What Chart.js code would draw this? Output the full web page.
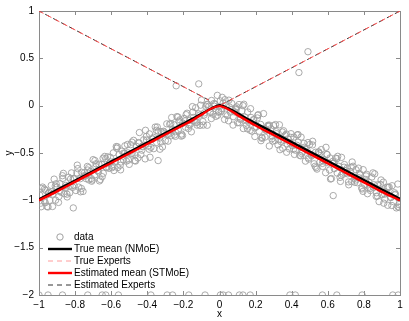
<!DOCTYPE html>
<html><head><meta charset="utf-8">
<script src="https://cdn.jsdelivr.net/npm/chart.js@4"></script>
<style>html,body{margin:0;padding:0;background:#fff;overflow:hidden}</style>
</head><body>
<canvas id="c" width="409" height="321"></canvas>
<script>
// ---- data ----
const dataX = [
-0.996,-0.988,-0.980,-0.972,-0.964,-0.956,-0.948,-0.940,-0.932,-0.924,-0.916,-0.908,-0.900,-0.892,-0.884,-0.876,-0.868,-0.860,-0.852,-0.844,-0.836,-0.828,-0.820,-0.812,-0.804,-0.796,-0.788,-0.780,-0.772,-0.764,-0.756,-0.748,-0.740,-0.732,-0.724,-0.716,-0.708,-0.700,-0.692,-0.684,-0.676,-0.668,-0.660,-0.652,-0.644,-0.636,-0.628,-0.620,-0.612,-0.604,
-0.596,-0.588,-0.580,-0.572,-0.564,-0.556,-0.548,-0.540,-0.532,-0.524,-0.516,-0.508,-0.500,-0.492,-0.484,-0.476,-0.468,-0.460,-0.452,-0.444,-0.436,-0.428,-0.420,-0.412,-0.404,-0.396,-0.388,-0.380,-0.372,-0.364,-0.356,-0.348,-0.340,-0.332,-0.324,-0.316,-0.308,-0.300,-0.292,-0.284,-0.276,-0.268,-0.260,-0.252,-0.244,-0.236,-0.228,-0.220,-0.212,-0.204,
-0.196,-0.188,-0.180,-0.172,-0.164,-0.156,-0.148,-0.140,-0.132,-0.124,-0.116,-0.108,-0.100,-0.092,-0.084,-0.076,-0.068,-0.060,-0.052,-0.044,-0.036,-0.028,-0.020,-0.012,-0.004,0.004,0.012,0.020,0.028,0.036,0.044,0.052,0.060,0.068,0.076,0.084,0.092,0.100,0.108,0.116,0.124,0.132,0.140,0.148,0.156,0.164,0.172,0.180,0.188,0.196,
0.204,0.212,0.220,0.228,0.236,0.244,0.252,0.260,0.268,0.276,0.284,0.292,0.300,0.308,0.316,0.324,0.332,0.340,0.348,0.356,0.364,0.372,0.380,0.388,0.396,0.404,0.412,0.420,0.428,0.436,0.444,0.452,0.460,0.468,0.476,0.484,0.492,0.500,0.508,0.516,0.524,0.532,0.540,0.548,0.556,0.564,0.572,0.580,0.588,0.596,
0.604,0.612,0.620,0.628,0.636,0.644,0.652,0.660,0.668,0.676,0.684,0.692,0.700,0.708,0.716,0.724,0.732,0.740,0.748,0.756,0.764,0.772,0.780,0.788,0.796,0.804,0.812,0.820,0.828,0.836,0.844,0.852,0.860,0.868,0.876,0.884,0.892,0.900,0.908,0.916,0.924,0.932,0.940,0.948,0.956,0.964,0.972,0.980,0.988,0.996,
-0.99,-0.97,-0.95,-0.93,-0.91,-0.89,-0.87,-0.85,-0.83,-0.81,-0.79,-0.77,-0.75,-0.73,-0.71,-0.69,-0.67,-0.65,-0.63,-0.61,-0.59,-0.57,-0.55,-0.53,-0.51,-0.49,-0.47,-0.45,-0.43,-0.41,-0.39,-0.37,-0.35,-0.33,-0.31,-0.29,-0.27,-0.25,-0.23,-0.21,-0.19,-0.17,-0.15,-0.13,-0.11,-0.09,-0.07,-0.05,-0.03,-0.01,
0.01,0.03,0.05,0.07,0.09,0.11,0.13,0.15,0.17,0.19,0.21,0.23,0.25,0.27,0.29,0.31,0.33,0.35,0.37,0.39,0.41,0.43,0.45,0.47,0.49,0.51,0.53,0.55,0.57,0.59,0.61,0.63,0.65,0.67,0.69,0.71,0.73,0.75,0.77,0.79,0.81,0.83,0.85,0.87,0.89,0.91,0.93,0.95,0.97,0.99,
-0.985,-0.965,-0.945,-0.925,-0.905,-0.885,-0.865,-0.845,-0.825,-0.805,-0.785,-0.765,-0.745,-0.725,-0.705,-0.685,-0.665,-0.645,-0.625,-0.605,-0.585,-0.565,-0.545,-0.525,-0.505,-0.485,-0.465,-0.445,-0.425,-0.405,-0.385,-0.365,-0.345,-0.325,-0.305,-0.285,-0.265,-0.245,-0.225,-0.205,-0.185,-0.165,-0.145,-0.125,-0.105,-0.085,-0.065,-0.045,-0.025,-0.005,
0.015,0.035,0.055,0.075,0.095,0.115,0.135,0.155,0.175,0.195,0.215,0.235,0.255,0.275,0.295,0.315,0.335,0.355,0.375,0.395,0.415,0.435,0.455,0.475,0.495,0.515,0.535,0.555,0.575,0.595,0.615,0.635,0.655,0.675,0.695,0.715,0.735,0.755,0.775,0.795,0.815,0.835,0.855,0.875,0.895,0.915,0.935,0.955,0.975,0.995,
0.49,0.44,-0.115,-0.24,-0.81,0.63,-0.34
];
const dataY = [
-0.946,-1.068,-0.860,-1.002,-0.894,-1.066,-0.928,-1.000,-0.842,-0.934,-0.776,-0.998,-0.860,-1.022,-0.824,-0.916,-0.768,-0.930,-0.842,-0.964,-0.756,-0.848,-0.710,-0.862,-0.774,-0.896,-0.628,-0.860,-0.772,-0.704,-0.906,-0.708,-0.770,-0.642,-0.784,-0.696,-0.798,-0.570,-0.732,-0.614,-0.686,-0.618,-0.780,-0.622,-0.714,-0.536,-0.648,-0.540,-0.662,-0.594,
-0.656,-0.498,-0.590,-0.432,-0.654,-0.516,-0.678,-0.480,-0.572,-0.424,-0.586,-0.498,-0.620,-0.412,-0.504,-0.366,-0.518,-0.430,-0.552,-0.284,-0.516,-0.428,-0.360,-0.562,-0.364,-0.426,-0.298,-0.440,-0.352,-0.454,-0.226,-0.388,-0.270,-0.342,-0.274,-0.436,-0.278,-0.370,-0.192,-0.304,-0.196,-0.318,-0.250,-0.202,-0.324,-0.116,-0.258,-0.150,-0.322,-0.184,
-0.136,-0.228,-0.080,-0.242,-0.154,-0.276,-0.068,-0.160,-0.022,-0.174,-0.086,-0.208,0.060,-0.168,-0.076,-0.006,-0.207,-0.009,-0.072,0.055,-0.090,-0.006,-0.113,0.109,-0.060,0.050,-0.031,0.027,-0.146,0.000,-0.105,0.058,-0.069,0.023,-0.116,-0.066,-0.038,-0.180,0.012,-0.146,-0.054,-0.242,-0.120,-0.208,-0.066,-0.174,-0.032,-0.270,-0.148,-0.326,
-0.224,-0.102,-0.270,-0.198,-0.336,-0.084,-0.332,-0.260,-0.208,-0.426,-0.244,-0.322,-0.210,-0.368,-0.296,-0.414,-0.202,-0.380,-0.278,-0.366,-0.314,-0.492,-0.350,-0.458,-0.296,-0.424,-0.332,-0.470,-0.418,-0.386,-0.524,-0.332,-0.490,-0.398,-0.586,-0.464,-0.552,-0.410,-0.518,-0.376,-0.614,-0.492,-0.670,-0.488,-0.596,-0.464,-0.642,-0.570,-0.708,-0.516,
-0.604,-0.552,-0.770,-0.588,-0.666,-0.554,-0.712,-0.640,-0.758,-0.546,-0.724,-0.622,-0.710,-0.658,-0.836,-0.694,-0.802,-0.640,-0.768,-0.676,-0.814,-0.762,-0.730,-0.868,-0.676,-0.834,-0.742,-0.930,-0.808,-0.896,-0.754,-0.862,-0.720,-0.958,-0.836,-1.014,-0.832,-0.940,-0.808,-0.986,-0.914,-1.052,-0.860,-0.968,-0.846,-1.014,-0.942,-1.080,-0.828,-1.076,
-1.030,-0.880,-1.070,-0.910,-0.850,-0.960,-0.740,-0.860,-0.920,-0.770,-0.710,-0.910,-0.740,-0.680,-0.770,-0.580,-0.700,-0.750,-0.560,-0.610,-0.640,-0.450,-0.630,-0.500,-0.410,-0.510,-0.580,-0.390,-0.470,-0.260,-0.460,-0.350,-0.260,-0.460,-0.270,-0.300,-0.190,-0.310,-0.120,-0.300,-0.160,-0.200,-0.010,-0.180,-0.100,-0.205,0.011,-0.060,0.023,-0.101,
-0.061,0.063,-0.160,-0.039,-0.025,-0.180,0.000,-0.160,-0.260,-0.150,-0.130,-0.370,-0.240,-0.220,-0.350,-0.200,-0.360,-0.450,-0.300,-0.390,-0.460,-0.310,-0.530,-0.440,-0.390,-0.530,-0.640,-0.490,-0.610,-0.440,-0.680,-0.610,-0.560,-0.800,-0.650,-0.720,-0.650,-0.810,-0.660,-0.880,-0.780,-0.860,-0.710,-0.920,-0.880,-1.030,-0.860,-0.970,-0.920,-1.070,
-0.875,-1.025,-0.915,-1.065,-0.825,-0.905,-0.715,-0.935,-0.775,-0.845,-0.665,-0.875,-0.745,-0.655,-0.785,-0.645,-0.795,-0.555,-0.655,-0.545,-0.685,-0.435,-0.595,-0.505,-0.575,-0.385,-0.585,-0.395,-0.435,-0.325,-0.545,-0.335,-0.225,-0.385,-0.295,-0.375,-0.125,-0.275,-0.165,-0.315,-0.095,-0.205,-0.125,-0.205,0.005,-0.098,0.016,-0.136,0.015,-0.070,
0.088,-0.090,-0.014,-0.205,-0.012,-0.135,0.015,-0.245,-0.125,-0.235,-0.095,-0.345,-0.255,-0.205,-0.375,-0.275,-0.465,-0.265,-0.405,-0.335,-0.515,-0.305,-0.505,-0.455,-0.565,-0.415,-0.655,-0.505,-0.585,-0.515,-0.775,-0.605,-0.535,-0.735,-0.685,-0.805,-0.595,-0.785,-0.715,-0.905,-0.725,-0.875,-0.835,-0.955,-0.785,-0.935,-0.865,-1.055,-0.935,-1.045,
0.57,0.35,0.23,0.21,-1.08,-0.95,-0.58
];
const outlierX = [-1.0,-0.95,-0.87,-0.73,-0.65,-0.63,-0.56,-0.38,-0.29,-0.26,-0.17,-0.08,0.005,0.02,0.05,0.11,0.13,0.17,0.39,0.42,0.57,0.65,0.79,0.96,0.99];
const outlierY = [-2,-2,-2,-2,-2,-2,-2,-2,-2,-2,-2,-2,-2,-2,-2,-2,-2,-2,-2,-2,-2,-2,-2,-2,-2];

const meanX     = [-1,-0.9,-0.8,-0.7,-0.6,-0.5,-0.4,-0.3,-0.2,-0.15,-0.1,-0.05,0,0.05,0.1,0.15,0.2,0.3,0.4,0.5,0.6,0.7,0.8,0.9,1];
const trueMean  = [-0.99,-0.89,-0.79,-0.69,-0.59,-0.49,-0.39,-0.29,-0.19,-0.14,-0.085,-0.035,0.005,-0.03,-0.08,-0.135,-0.185,-0.285,-0.385,-0.485,-0.585,-0.685,-0.785,-0.885,-0.985];
const estMean   = [-1.0,-0.905,-0.805,-0.705,-0.605,-0.505,-0.405,-0.305,-0.205,-0.155,-0.095,-0.035,-0.005,-0.04,-0.1,-0.155,-0.21,-0.31,-0.41,-0.51,-0.61,-0.71,-0.81,-0.91,-1.0];

const expert1X = [-1, -0.06];
const expert1Y = [1, 0.06];
const expert2X = [0.01, 1];
const expert2Y = [0.01, 1];

const xTickValues = [-1,-0.8,-0.6,-0.4,-0.2,0,0.2,0.4,0.6,0.8,1];
const xTickLabels = ['\u22121','\u22120.8','\u22120.6','\u22120.4','\u22120.2','0','0.2','0.4','0.6','0.8','1'];
const yTickValues = [-2,-1.5,-1,-0.5,0,0.5,1];
const yTickLabels = ['\u22122','\u22121.5','\u22121','\u22120.5','0','0.5','1'];

const legendLabels = ['data','True mean (NMoE)','True Experts','Estimated mean (STMoE)','Estimated Experts'];

// ---- helpers ----
const zip = (xs, ys) => xs.map((x, i) => ({x, y: ys[i]}));
const FONT = '"Liberation Sans", Arial, Helvetica, sans-serif';
Chart.defaults.font.family = FONT;

const expertsTrue = zip(expert1X, expert1Y).concat([{x: null, y: null}], zip(expert2X, expert2Y));
const expertsEst  = zip(expert1X, expert1Y).concat([{x: null, y: null}], zip(expert2X, expert2Y));

const styles = {
  data:   {color: '#a0a0a0'},
  trueM:  {color: '#000000', width: 2.4},
  trueE:  {color: '#ff5050', width: 1, dash: [5, 4]},
  estM:   {color: '#ff0000', width: 2.4},
  estE:   {color: '#333333', width: 1, dash: [5, 4]}
};

const boxPlugin = {
  id: 'box',
  beforeDatasetsDraw(chart) {
    const {ctx, chartArea: a, scales: {x, y}} = chart;
    ctx.save();
    ctx.strokeStyle = '#8a8a8a';
    ctx.lineWidth = 1;
    ctx.strokeRect(a.left + 0.5, a.top + 0.5, a.right - a.left, a.bottom - a.top);
    ctx.beginPath();
    xTickValues.forEach(v => {
      const px = Math.round(x.getPixelForValue(v)) + 0.5;
      ctx.moveTo(px, a.bottom); ctx.lineTo(px, a.bottom - 4);
      ctx.moveTo(px, a.top); ctx.lineTo(px, a.top + 4);
    });
    yTickValues.forEach(v => {
      const py = Math.round(y.getPixelForValue(v)) + 0.5;
      ctx.moveTo(a.left, py); ctx.lineTo(a.left + 4, py);
      ctx.moveTo(a.right, py); ctx.lineTo(a.right - 4, py);
    });
    ctx.stroke();
    ctx.restore();
  }
};

const legendPlugin = {
  id: 'mlegend',
  afterDatasetsDraw(chart) {
    const {ctx, chartArea: a} = chart;
    const x0 = a.left + 9, x1 = a.left + 33, tx = a.left + 35;
    const y0 = a.top + 226, dy = 12;
    ctx.save();
    ctx.font = '10px ' + FONT;
    ctx.textBaseline = 'middle';
    ctx.fillStyle = '#000';
    const keys = ['data','trueM','trueE','estM','estE'];
    keys.forEach((k, i) => {
      const yy = y0 + i * dy;
      const s = styles[k];
      if (k === 'data') {
        ctx.beginPath();
        ctx.strokeStyle = s.color; ctx.lineWidth = 1;
        ctx.arc((x0 + x1) / 2, yy, 3.2, 0, Math.PI * 2);
        ctx.stroke();
      } else {
        ctx.beginPath();
        ctx.strokeStyle = k === 'trueE' ? '#ff9c9c' : s.color;
        ctx.lineWidth = s.width;
        ctx.setLineDash(s.dash || []);
        ctx.moveTo(x0, yy); ctx.lineTo(x1, yy);
        ctx.stroke();
        ctx.setLineDash([]);
      }
      ctx.fillStyle = '#000';
      ctx.fillText(legendLabels[i], tx, yy + 0.5);
    });
    ctx.restore();
  }
};

new Chart(document.getElementById('c'), {
  type: 'scatter',
  data: {
    datasets: [
      {label: legendLabels[0], data: zip(dataX, dataY).concat(zip(outlierX, outlierY)), pointStyle: 'circle', pointRadius: 3.2,
       pointBorderWidth: 0.9, pointBorderColor: styles.data.color, pointBackgroundColor: 'rgba(0,0,0,0)', showLine: false, order: 10},
      {label: legendLabels[1], data: zip(meanX, trueMean), showLine: true, borderColor: styles.trueM.color, borderWidth: styles.trueM.width,
       pointRadius: 0, tension: 0.4, cubicInterpolationMode: 'monotone', order: 4},
      {label: legendLabels[4], data: expertsEst, showLine: true, spanGaps: false, borderColor: styles.estE.color, borderWidth: styles.estE.width,
       borderDash: styles.estE.dash, borderDashOffset: 2, pointRadius: 0, order: 3},
      {label: legendLabels[2], data: expertsTrue, showLine: true, spanGaps: false, borderColor: styles.trueE.color, borderWidth: styles.trueE.width,
       borderDash: styles.trueE.dash, pointRadius: 0, order: 2},
      {label: legendLabels[3], data: zip(meanX, estMean), showLine: true, borderColor: styles.estM.color, borderWidth: styles.estM.width,
       pointRadius: 0, tension: 0.4, cubicInterpolationMode: 'monotone', order: 1}
    ]
  },
  options: {
    responsive: false,
    animation: false,
    devicePixelRatio: 1,
    layout: {padding: {left: 0, top: 10, right: 9, bottom: 0}},
    plugins: {legend: {display: false}, tooltip: {enabled: false}},
    scales: {
      x: {
        type: 'linear', min: -1, max: 1,
        grid: {display: false, drawTicks: false},
        border: {display: false},
        afterBuildTicks(s) { s.ticks = xTickValues.map(v => ({value: v})); },
        ticks: {autoSkip: false, maxRotation: 0, padding: 4, color: '#000', font: {size: 10},
                callback: (v, i) => xTickLabels[i]},
        title: {display: true, text: 'x', color: '#000', font: {size: 10}, padding: {top: 0, bottom: 1}},
        afterFit(s) { s.height = 26; }
      },
      y: {
        type: 'linear', min: -2, max: 1,
        grid: {display: false, drawTicks: false},
        border: {display: false},
        afterBuildTicks(s) { s.ticks = yTickValues.map(v => ({value: v})); },
        ticks: {autoSkip: false, padding: 5, color: '#000', font: {size: 10},
                callback: (v, i) => yTickLabels[i]},
        title: {display: true, text: 'y', color: '#000', font: {size: 10}, padding: {top: 3, bottom: 0}},
        afterFit(s) { s.width = 39; }
      }
    }
  },
  plugins: [boxPlugin, legendPlugin]
});
</script>
</body></html>
